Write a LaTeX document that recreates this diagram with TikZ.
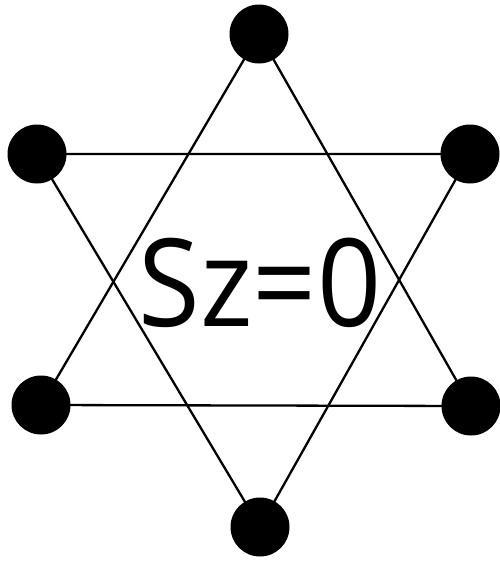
\documentclass[tikz,border=0pt]{standalone}
\usepackage{fontspec}
\setmainfont{Open Sans}
\begin{document}
\begin{tikzpicture}[x=1pt,y=-1pt,
  dot/.style={circle,fill=black,minimum size=59pt,inner sep=0pt},
  edge/.style={line width=2.3pt}]
\useasboundingbox (0,0) rectangle (499,562);
\coordinate (T) at (259,34);
\coordinate (UL) at (37,154);
\coordinate (UR) at (470,154);
\coordinate (LL) at (41,405);
\coordinate (LR) at (471,406);
\coordinate (B) at (260,527);
\draw[edge] (T) -- (LL) -- (LR) -- cycle;
\draw[edge] (UL) -- (UR) -- (B) -- cycle;
\foreach \p in {T,UL,UR,LL,LR,B} \node[dot] (d\p) at (\p) {};
\node[font=\fontsize{122}{122}\selectfont,inner sep=0pt] (lbl) at (260,283) {\scalebox{0.92}[1]{Sz=0}};
\end{tikzpicture}
\end{document}
